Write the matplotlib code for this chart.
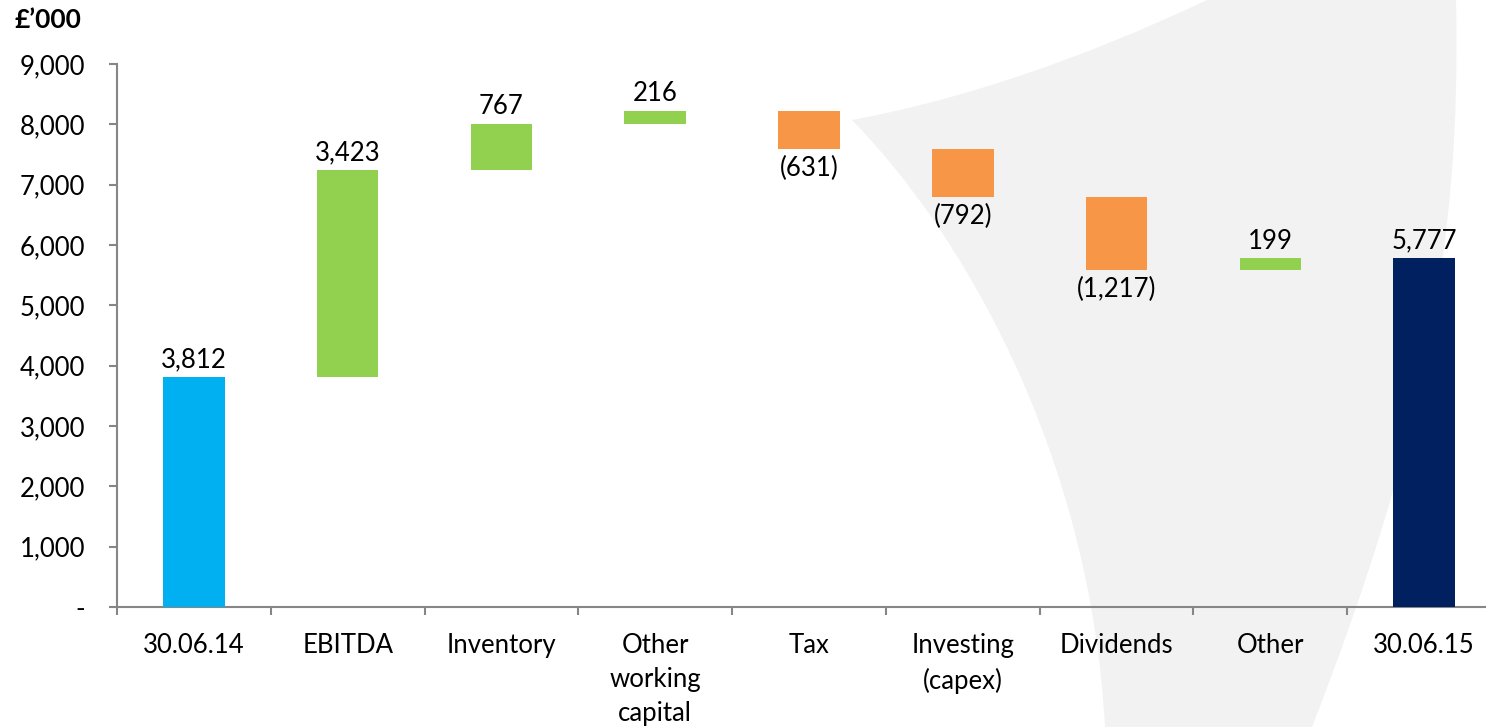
import matplotlib.pyplot as plt
from matplotlib.path import Path
from matplotlib.patches import PathPatch

# Data: opening balance, movements, closing balance (£'000)
categories = ["30.06.14", "EBITDA", "Inventory", "Other\nworking\ncapital", "Tax",
              "Investing\n(capex)", "Dividends", "Other", "30.06.15"]
opening = 3812
movements = [3423, 767, 216, -631, -792, -1217, 199]
closing = 5777
yticks = [0, 1000, 2000, 3000, 4000, 5000, 6000, 7000, 8000, 9000]

C_OPEN = "#00B0F0"
C_UP = "#92D050"
C_DOWN = "#F79646"
C_CLOSE = "#002060"
AXIS = "#868686"
FS = 18.5

plt.rcParams["font.family"] = ["Lato", "DejaVu Sans"]

W, H = 1486, 727
fig = plt.figure(figsize=(W / 100, H / 100), dpi=100)


def fx(x, y):
    return (x / W, 1 - y / H)


# light grey background swoosh (decoration, figure pixel coords)
bg = fig.add_axes([0, 0, 1, 1], zorder=0)
bg.set_axis_off()
verts = [fx(1207, 0), fx(1080, 60), fx(960, 100), fx(852, 120),
         fx(960, 230), fx(1090, 450), fx(1105, 727),
         fx(1312, 727),
         fx(1420, 450), fx(1462, 250), fx(1456, 0),
         fx(1207, 0)]
codes = [Path.MOVETO, Path.CURVE4, Path.CURVE4, Path.CURVE4,
         Path.CURVE4, Path.CURVE4, Path.CURVE4,
         Path.LINETO,
         Path.CURVE4, Path.CURVE4, Path.CURVE4,
         Path.CLOSEPOLY]
bg.add_patch(PathPatch(Path(verts, codes), transform=fig.transFigure,
                       facecolor="#F2F2F2", edgecolor="none"))

ax = fig.add_axes([117 / W, 1 - 607 / H, (1501 - 117) / W, (607 - 64) / H], zorder=1)
ax.patch.set_alpha(0)

# build waterfall segments
bottoms, heights, colors, labels = [0], [opening], [C_OPEN], [f"{opening:,}"]
level = opening
for m in movements:
    if m >= 0:
        bottoms.append(level)
        heights.append(m)
        colors.append(C_UP)
        labels.append(f"{m:,}")
    else:
        bottoms.append(level + m)
        heights.append(-m)
        colors.append(C_DOWN)
        labels.append(f"({-m:,})")
    level += m
bottoms.append(0)
heights.append(closing)
colors.append(C_CLOSE)
labels.append(f"{closing:,}")

x = list(range(len(categories)))
ax.bar(x, heights, bottom=bottoms, width=0.4, color=colors, zorder=3)

signs = [1] + [1 if m >= 0 else -1 for m in movements] + [1]
for xi, b, h, lab, s in zip(x, bottoms, heights, labels, signs):
    if s > 0:
        ax.annotate(lab, (xi, b + h), xytext=(0, 3.5), textcoords="offset points",
                    ha="center", va="bottom", fontsize=FS, color="#000000")
    else:
        ax.annotate(lab, (xi, b), xytext=(0, -5), textcoords="offset points",
                    ha="center", va="top", fontsize=FS, color="#000000")

ax.set_xlim(-0.5, len(categories) - 0.5)
ax.set_ylim(0, 9000)
ax.set_yticks(yticks)
ax.set_yticklabels(["-" if v == 0 else f"{v:,}" for v in yticks])

ax.set_xticks(x)
ax.set_xticklabels(categories, linespacing=1.45)
ax.set_xticks([i - 0.5 for i in range(len(categories))], minor=True)
ax.tick_params(axis="x", which="major", length=0, pad=19, labelsize=FS)
ax.tick_params(axis="x", which="minor", length=6, width=1.5, color=AXIS, direction="out")
ax.tick_params(axis="y", length=6, width=1.5, color=AXIS, pad=17, labelsize=FS)

for side in ["top", "right"]:
    ax.spines[side].set_visible(False)
for side in ["left", "bottom"]:
    ax.spines[side].set_color(AXIS)
    ax.spines[side].set_linewidth(1.5)

fig.text(15 / W, 1 - 20 / H, "£’000", fontsize=19, fontweight="bold",
         ha="left", va="center")

fig.savefig("out.png", dpi=100)
